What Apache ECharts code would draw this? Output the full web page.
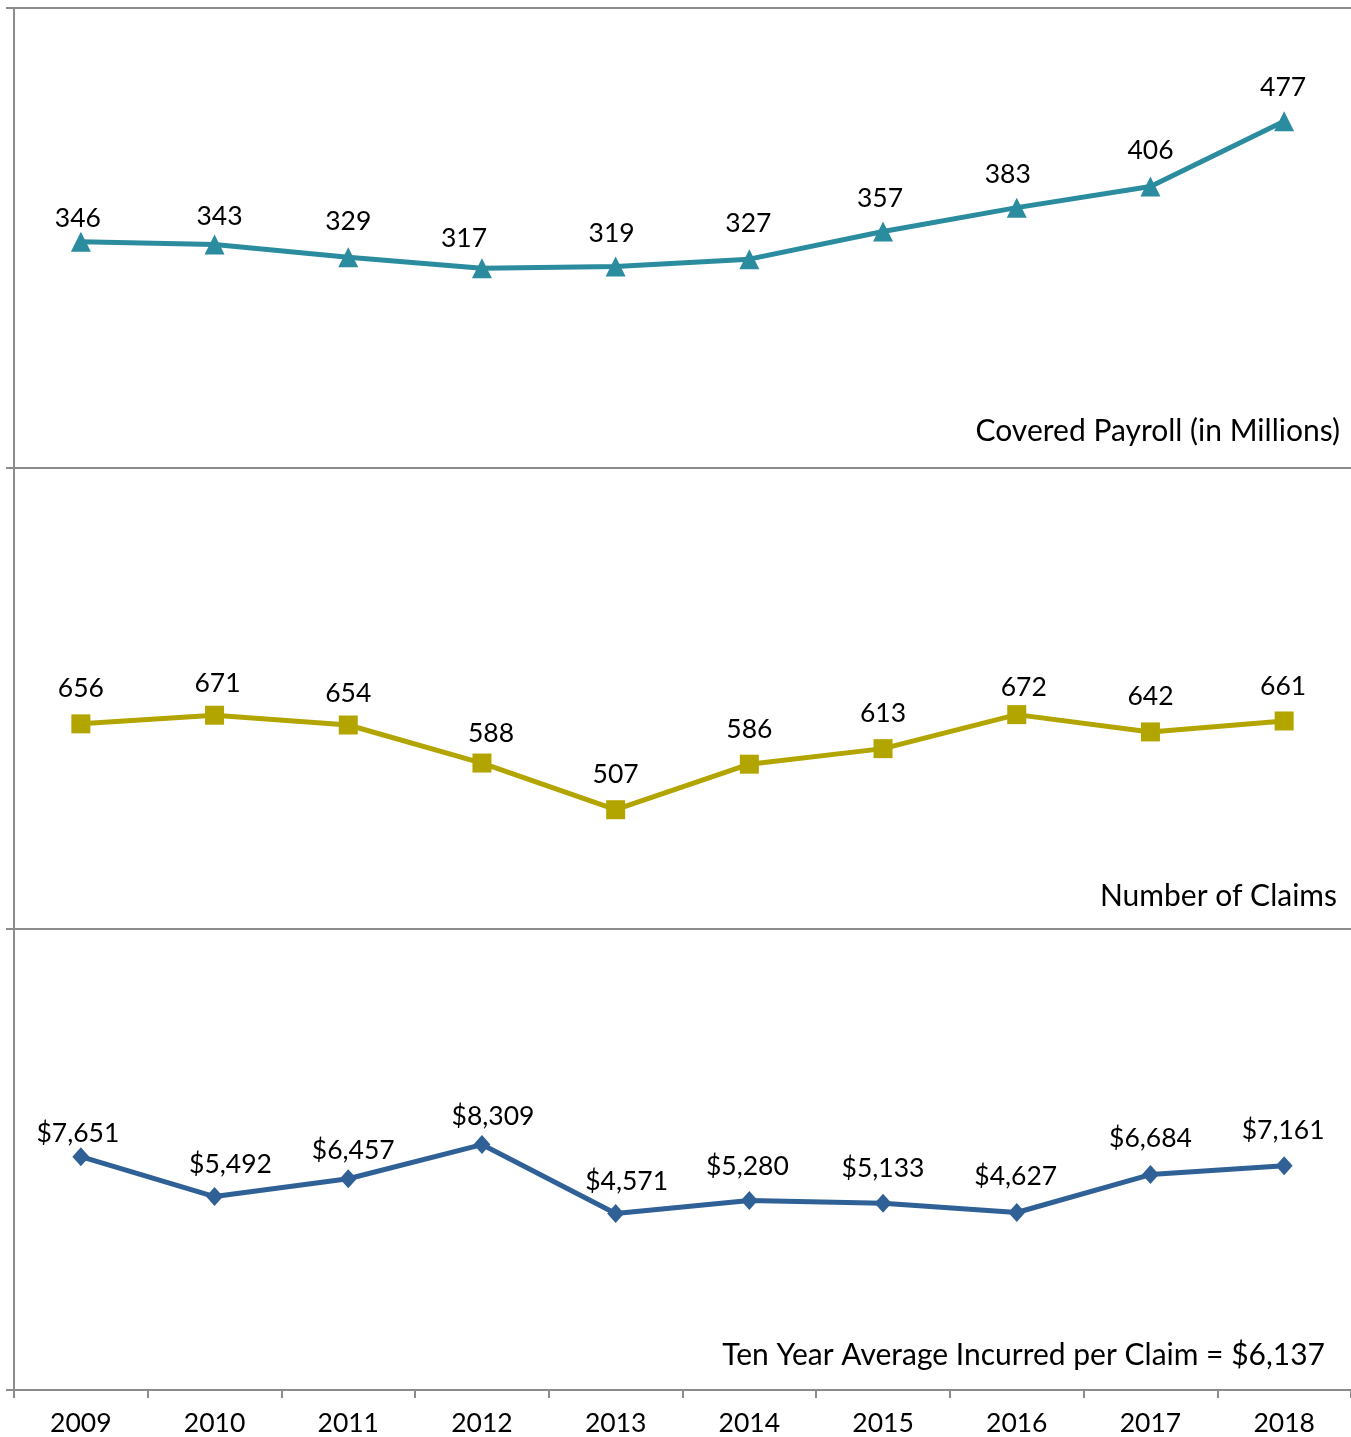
<!DOCTYPE html>
<html>
<head>
<meta charset="utf-8">
<script src="https://cdn.jsdelivr.net/npm/echarts@6/dist/echarts.min.js"></script>
<style>
  html, body { margin: 0; padding: 0; background: #ffffff; }
  #chart { width: 1351px; height: 1437px; }
</style>
</head>
<body>
<div id="chart"></div>
<script>
// Year categories shared by all three panels
const years = ['2009', '2010', '2011', '2012', '2013', '2014', '2015', '2016', '2017', '2018'];

// Panel values
const payroll = [346, 343, 329, 317, 319, 327, 357, 383, 406, 477];
const claims = [656, 671, 654, 588, 507, 586, 613, 672, 642, 661];
const incurredPerClaim = [7651, 5492, 6457, 8309, 4571, 5280, 5133, 4627, 6684, 7161];

// Panel captions
const payrollTitle = 'Covered Payroll (in Millions)';
const claimsTitle = 'Number of Claims';
const incurredTitle = 'Ten Year Average Incurred per Claim = $6,137';

// Value ranges of each panel
const payrollRange = [100, 600];
const claimsRange = [300, 1100];
const incurredRange = [-5000, 20000];

// Per-point nudges of the value labels, in pixels from the marker centre
const payrollLabelShift = [[-3, -23], [5, -28], [0, -36], [-18, -30], [-4, -33], [-1, -36], [-3, -33], [-9, -33], [0, -36], [-1, -34]];
const claimsLabelShift = [[0, -35], [3, -32], [0, -32], [9, -30], [0, -35], [0, -35], [0, -35], [7, -27], [0, -35], [-1, -35]];
const incurredLabelShift = [[-3, -23], [16, -32], [5, -28], [11, -28], [11, -32], [-2, -34], [0, -35], [-1, -36], [0, -36], [-1, -35]];

const FONT = 'Lato, "Open Sans", sans-serif';
const GRAY = '#8c8c8c';
const COLORS = { payroll: '#2a8c9e', claims: '#b3a500', incurred: '#2f6096' };

const chart = echarts.init(document.getElementById('chart'), null, { renderer: 'canvas' });

const grids = [
  { left: 14, width: 1339, top: 8, height: 460 },
  { left: 14, width: 1339, top: 468, height: 461 },
  { left: 14, width: 1339, top: 929, height: 461 }
];

function yAxisFor(idx, range) {
  return {
    type: 'value', gridIndex: idx, min: range[0], max: range[1],
    axisLine: { show: true, onZero: false, lineStyle: { color: GRAY, width: 2 } },
    axisTick: { show: true, length: 8, customValues: [range[0], range[1]], lineStyle: { color: GRAY, width: 2 } },
    axisLabel: { show: false },
    splitLine: { show: false }
  };
}

function plainX(idx, position) {
  return {
    type: 'category', gridIndex: idx, data: years, boundaryGap: true, position: position || 'bottom',
    axisLine: { show: true, onZero: false, lineStyle: { color: GRAY, width: 2 } },
    axisTick: { show: false }, axisLabel: { show: false }, splitLine: { show: false }
  };
}

function withLabels(values, shifts) {
  return values.map((v, i) => ({ value: v, label: { offset: shifts[i] } }));
}

function lineSeries(idx, values, shifts, color, symbol, size, fmt) {
  return {
    type: 'line', xAxisIndex: idx, yAxisIndex: idx,
    data: withLabels(values, shifts),
    symbol: symbol, symbolSize: size, showAllSymbol: true,
    itemStyle: { color: color },
    lineStyle: { color: color, width: 5 },
    label: {
      show: true, position: 'inside', color: '#000', fontFamily: FONT, fontSize: 26.5,
      formatter: fmt
    },
    emphasis: { disabled: true },
    animation: false,
    z: 3
  };
}

const titleStyle = { fontFamily: FONT, fontSize: 30, fontWeight: 'normal', color: '#000' };

const option = {
  animation: false,
  backgroundColor: '#ffffff',
  title: [
    { text: payrollTitle, right: 6, top: 411, textStyle: titleStyle },
    { text: claimsTitle, right: 9, top: 876, textStyle: titleStyle },
    { text: incurredTitle, right: 21, top: 1335, textStyle: titleStyle }
  ],
  grid: grids,
  xAxis: [
    plainX(0),
    plainX(1),
    {
      type: 'category', gridIndex: 2, data: years, boundaryGap: true,
      axisLine: { show: true, onZero: false, lineStyle: { color: GRAY, width: 2 } },
      axisTick: { show: true, length: 8, lineStyle: { color: GRAY, width: 2 } },
      axisLabel: { show: true, color: '#000', fontFamily: FONT, fontSize: 26.5, margin: 20 },
      splitLine: { show: false }
    },
    plainX(0, 'top')
  ],
  yAxis: [
    yAxisFor(0, payrollRange),
    yAxisFor(1, claimsRange),
    yAxisFor(2, incurredRange)
  ],
  series: [
    lineSeries(0, payroll, payrollLabelShift, COLORS.payroll, 'triangle', 20, p => String(p.value)),
    lineSeries(1, claims, claimsLabelShift, COLORS.claims, 'rect', 19, p => String(p.value)),
    lineSeries(2, incurredPerClaim, incurredLabelShift, COLORS.incurred, 'diamond', [17, 19],
      p => '$' + Number(p.value).toLocaleString('en-US'))
  ]
};

chart.setOption(option);
</script>
</body>
</html>
